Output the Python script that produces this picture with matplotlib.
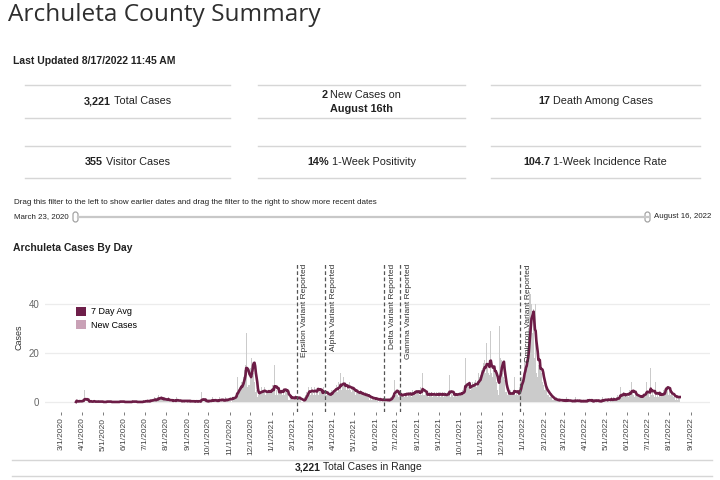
import matplotlib
matplotlib.use('Agg')
import matplotlib.pyplot as plt
import matplotlib.dates as mdates
from matplotlib.lines import Line2D
from matplotlib.patches import Patch, FancyBboxPatch
from matplotlib.ticker import FuncFormatter
import pandas as pd

plt.rcParams['font.family'] = ['Liberation Sans', 'DejaVu Sans']

# daily new cases
mar_2020 = [0, 1, 0, 0, 0, 1, 0, 0, 1]  # from Mar 23
apr_2020 = [0, 1, 0, 5, 1, 0, 0, 1, 0, 0,
            0, 0, 1, 0, 0, 0, 0, 1, 0, 0,
            0, 0, 0, 0, 1, 0, 0, 0, 0, 0]
may_2020 = [0, 0, 0, 0, 0, 0, 1, 0, 0, 0,
            0, 0, 0, 0, 0, 0, 0, 0, 0, 0,
            0, 0, 0, 0, 0, 1, 0, 0, 0, 0,
            0]
jun_2020 = [0, 0, 0, 0, 0, 0, 0, 0, 0, 0,
            0, 0, 1, 0, 0, 0, 0, 0, 0, 0,
            0, 0, 0, 0, 0, 0, 0, 0, 1, 0]
jul_2020 = [0, 1, 0, 0, 1, 0, 0, 1, 0, 2,
            0, 1, 1, 0, 2, 1, 0, 1, 2, 1,
            3, 1, 2, 1, 2, 0, 1, 1, 2, 1,
            1]
aug_2020 = [1, 0, 1, 2, 0, 1, 0, 1, 0, 1,
            0, 1, 1, 0, 0, 2, 1, 0, 0, 1,
            0, 0, 1, 0, 1, 0, 0, 1, 0, 1,
            0]
sep_2020 = [0, 1, 0, 0, 1, 0, 0, 0, 1, 0,
            0, 0, 1, 0, 0, 0, 1, 0, 0, 0,
            4, 1, 1, 0, 1, 0, 0, 0, 1, 0]
oct_2020 = [1, 0, 1, 0, 0, 1, 2, 0, 1, 0,
            1, 0, 0, 1, 1, 0, 2, 1, 0, 1,
            1, 0, 1, 1, 0, 2, 1, 0, 1, 1,
            2]
nov_2020 = [1, 2, 1, 0, 2, 3, 1, 2, 3, 2,
            3, 10, 4, 5, 6, 6, 5, 8, 9, 8,
            10, 13, 14, 15, 28, 9, 6, 7, 6, 7]
dec_2020 = [14, 22, 18, 15, 23, 12, 8, 4, 3, 5,
            2, 4, 3, 4, 5, 4, 6, 3, 4, 5,
            4, 6, 3, 5, 2, 4, 5, 6, 4, 5,
            3]
jan_2021 = [5, 7, 4, 6, 15, 3, 4, 5, 3, 4,
            5, 4, 3, 5, 4, 6, 3, 4, 10, 3,
            4, 5, 3, 4, 1, 2, 1, 2, 1, 3,
            1]
feb_2021 = [2, 1, 2, 1, 3, 1, 2, 1, 2, 1,
            2, 1, 0, 1, 0, 1, 0, 2, 3, 4,
            5, 3, 6, 4, 5, 3, 4, 6]
mar_2021 = [4, 5, 3, 6, 4, 3, 5, 4, 12, 3,
            4, 3, 5, 4, 3, 4, 6, 3, 4, 5,
            3, 2, 4, 3, 2, 3, 4, 3, 5, 4,
            6]
apr_2021 = [5, 4, 6, 5, 7, 4, 6, 8, 5, 7,
            12, 5, 6, 7, 10, 5, 7, 6, 7, 5,
            7, 5, 6, 8, 5, 6, 4, 5, 6, 5]
may_2021 = [5, 4, 3, 4, 5, 3, 4, 4, 3, 5,
            3, 2, 4, 3, 2, 3, 4, 2, 3, 2,
            2, 3, 1, 2, 2, 1, 2, 1, 2, 1,
            1]
jun_2021 = [1, 2, 1, 1, 0, 1, 2, 1, 0, 1,
            1, 1, 0, 2, 1, 0, 1, 1, 0, 1,
            1, 2, 1, 2, 3, 4, 3, 9, 4, 3]
jul_2021 = [4, 5, 3, 2, 3, 2, 4, 3, 2, 3,
            3, 4, 2, 3, 5, 3, 2, 4, 3, 3,
            4, 3, 2, 5, 3, 4, 3, 8, 3, 4,
            3]
aug_2021 = [4, 5, 3, 4, 6, 3, 4, 12, 3, 2,
            3, 4, 2, 3, 4, 3, 2, 4, 3, 3,
            4, 2, 3, 3, 4, 2, 3, 4, 3, 2,
            4]
sep_2021 = [3, 4, 2, 3, 4, 3, 2, 3, 4, 3,
            2, 3, 4, 3, 3, 11, 2, 3, 4, 3,
            3, 2, 4, 3, 3, 2, 4, 3, 3, 4]
oct_2021 = [3, 3, 4, 3, 5, 4, 5, 6, 18, 4,
            6, 7, 5, 6, 8, 5, 7, 6, 8, 7,
            6, 8, 7, 9, 6, 8, 7, 12, 9, 10,
            11]
nov_2021 = [13, 15, 14, 16, 13, 17, 12, 12, 24, 14,
            15, 12, 11, 29, 13, 12, 10, 11, 14, 12,
            16, 13, 8, 4, 5, 3, 6, 31, 18, 17]
dec_2021 = [18, 12, 10, 9, 9, 4, 3, 4, 3, 3,
            4, 3, 5, 2, 4, 3, 4, 3, 10, 3,
            3, 4, 2, 3, 5, 4, 6, 8, 10, 12,
            9]
jan_2022 = [10, 14, 18, 15, 20, 17, 22, 19, 30, 45,
            38, 44, 40, 28, 25, 38, 18, 14, 40, 12,
            11, 10, 15, 18, 14, 15, 12, 10, 8, 7,
            6]
feb_2022 = [5, 6, 4, 5, 3, 4, 3, 2, 3, 2,
            2, 1, 2, 1, 1, 0, 1, 2, 0, 1,
            1, 0, 1, 0, 2, 0, 1, 0]
mar_2022 = [1, 0, 1, 0, 2, 0, 1, 0, 0, 1,
            0, 1, 0, 0, 1, 0, 0, 2, 0, 0,
            1, 0, 0, 1, 0, 0, 1, 0, 0, 1,
            0]
apr_2022 = [0, 1, 0, 0, 3, 0, 1, 0, 0, 1,
            0, 0, 1, 0, 2, 0, 0, 1, 0, 0,
            1, 0, 0, 1, 0, 2, 1, 0, 1, 1]
may_2022 = [1, 0, 1, 2, 1, 0, 1, 1, 2, 0,
            1, 2, 1, 0, 1, 2, 1, 3, 2, 1,
            3, 6, 2, 3, 2, 4, 3, 2, 3, 4,
            3]
jun_2022 = [3, 4, 2, 5, 3, 4, 8, 5, 4, 3,
            2, 3, 4, 3, 2, 3, 2, 1, 2, 3,
            2, 3, 2, 3, 5, 2, 4, 3, 8, 4]
jul_2022 = [3, 4, 2, 3, 14, 3, 2, 4, 3, 2,
            3, 8, 2, 3, 4, 2, 3, 4, 2, 3,
            4, 3, 2, 5, 4, 6, 12, 5, 6, 4,
            3]
aug_2022 = [4, 5, 3, 4, 2, 3, 2, 3, 2, 1,
            3, 2, 1, 2, 3, 2]  # to Aug 16

new_cases = (mar_2020 + apr_2020 + may_2020 + jun_2020 + jul_2020 + aug_2020 +
             sep_2020 + oct_2020 + nov_2020 + dec_2020 +
             jan_2021 + feb_2021 + mar_2021 + apr_2021 + may_2021 + jun_2021 +
             jul_2021 + aug_2021 + sep_2021 + oct_2021 + nov_2021 + dec_2021 +
             jan_2022 + feb_2022 + mar_2022 + apr_2022 + may_2022 + jun_2022 +
             jul_2022 + aug_2022)

variant_names = ['Epsilon', 'Alpha', 'Delta', 'Gamma', 'Omicron']
variant_dates = ['2021-02-06', '2021-03-20', '2021-06-13', '2021-07-06', '2021-12-27']

kpi_values = [['3,221', '2', '17'], ['355', '14%', '104.7']]
kpi_labels = [['Total Cases', 'New Cases on', 'Death Among Cases'],
              ['Visitor Cases', '1-Week Positivity', '1-Week Incidence Rate']]

dates = pd.date_range('2020-03-23', periods=len(new_cases), freq='D')
cases = pd.Series(new_cases, index=dates)
avg7 = cases.rolling(7, min_periods=1).mean()

W, H = 720, 480
fig = plt.figure(figsize=(7.2, 4.8), dpi=100)
renderer = fig.canvas.get_renderer()


def fx(px):
    return px / W


def fy(py):
    return 1 - py / H


def mixed(cx, cy, bold, normal, size):
    t1 = fig.text(0, fy(cy), bold, weight='bold', size=size, va='center', color='#222')
    t2 = fig.text(0, fy(cy), normal, size=size, va='center', color='#222')
    w1 = t1.get_window_extent(renderer).width / W
    w2 = t2.get_window_extent(renderer).width / W
    gap = size * 100 / 72 * 0.24 / W
    x0 = fx(cx) - (w1 + gap + w2) / 2
    t1.set_x(x0)
    t2.set_x(x0 + w1 + gap)


def hline(x0, x1, y, color='#d6d6d6', lw=1.0):
    fig.add_artist(Line2D([fx(x0), fx(x1)], [fy(y), fy(y)], color=color, lw=lw))


# header
fig.text(fx(8), fy(21), 'Archuleta County Summary', family=['Open Sans', 'DejaVu Sans'],
         size=17.6, color='#2e2e2e', va='baseline')
fig.text(fx(13), fy(61), 'Last Updated 8/17/2022 11:45 AM', weight='bold', size=7.5,
         va='center', color='#222')

# KPI cards
cols = [(25, 230), (258, 465), (491, 700)]
for (a, b) in cols:
    for y in (85, 118, 146, 178):
        hline(a, b, y)
row_y = [101.5, 162]
for r in range(2):
    for c in range(3):
        cx = (cols[c][0] + cols[c][1]) / 2
        if r == 0 and c == 1:
            mixed(cx, 95, kpi_values[r][c], kpi_labels[r][c], 7.8)
            fig.text(fx(cx), fy(108.5), 'August 16th', weight='bold', size=7.8,
                     ha='center', va='center', color='#222')
        else:
            mixed(cx, row_y[r], kpi_values[r][c], kpi_labels[r][c], 7.8)

# date filter
fig.text(fx(14), fy(202), 'Drag this filter to the left to show earlier dates and drag the filter '
         'to the right to show more recent dates', size=5.8, va='center', color='#222')
fig.text(fx(14), fy(217), 'March 23, 2020', size=5.7, va='center', color='#222')
fig.text(fx(654), fy(217), 'August 16, 2022', size=5.7, va='center', color='#222')
hline(78, 648, 217, color='#c8c8c8', lw=1.6)
for hx in (73, 645):
    fig.add_artist(FancyBboxPatch(((hx) / 100, (H - 222) / 100), 0.05, 0.10,
                                  boxstyle='round,pad=0,rounding_size=0.025',
                                  transform=fig.dpi_scale_trans,
                                  facecolor='white', edgecolor='#9a9a9a', lw=0.8))

fig.text(fx(13), fy(248), 'Archuleta Cases By Day', weight='bold', size=7.5,
         va='center', color='#222')

# chart
ax = fig.add_axes([fx(45), fy(412), 665 / W, 150 / H])
ax.bar(cases.index, cases.values, width=1.0, color='#cbcbcb', linewidth=0, zorder=2)
ax.plot(avg7.index, avg7.values, color='#6c1c46', lw=1.9, zorder=4)

for name, d in zip(variant_names, variant_dates):
    dt = pd.Timestamp(d)
    ax.axvline(dt, color='#555555', lw=0.9, ls=(0, (3, 2)), zorder=5)
    ax.annotate(f'{name} Variant Reported', xy=(dt, 1), xycoords=('data', 'axes fraction'),
                xytext=(3.5, -1.5), textcoords='offset points', rotation=90,
                ha='left', va='top', size=6, color='#333', zorder=6)

ax.set_xlim(pd.Timestamp('2020-02-07'), pd.Timestamp('2022-09-29'))
ax.set_ylim(-4.1, 57.1)
ax.set_yticks([0, 20, 40])
ax.grid(axis='y', color='#ececec', lw=0.9, zorder=0)
ax.set_axisbelow(True)
for s in ax.spines.values():
    s.set_visible(False)

month_ticks = pd.date_range('2020-03-01', '2022-09-01', freq='MS')
ax.set_xticks(month_ticks)
ax.xaxis.set_major_formatter(FuncFormatter(
    lambda v, p: f'{mdates.num2date(v).month}/{mdates.num2date(v).day}/{mdates.num2date(v).year}'))
ax.tick_params(axis='x', length=2.5, width=0.6, color='#666', labelsize=6,
               labelcolor='#444', labelrotation=90, pad=1.5)
ax.tick_params(axis='y', length=0, labelsize=7, labelcolor='#666', pad=4)
ax.set_ylabel('Cases', size=6.5, color='#333')
ax.yaxis.set_label_coords(-0.032, 0.5)

handles = [Patch(facecolor='#6e1f4a'), Patch(facecolor='#c9a1b6')]
ax.legend(handles, ['7 Day Avg', 'New Cases'], loc='upper left', bbox_to_anchor=(0.047, 0.70),
          frameon=False, fontsize=6.5, handlelength=1.1, handleheight=1.1,
          handletextpad=0.5, borderpad=0, borderaxespad=0, labelspacing=0.45)

# footer
hline(12, 712, 460)
hline(12, 712, 476)
mixed(358, 467.5, '3,221', 'Total Cases in Range', 7.5)

fig.savefig('out.png', dpi=100)
